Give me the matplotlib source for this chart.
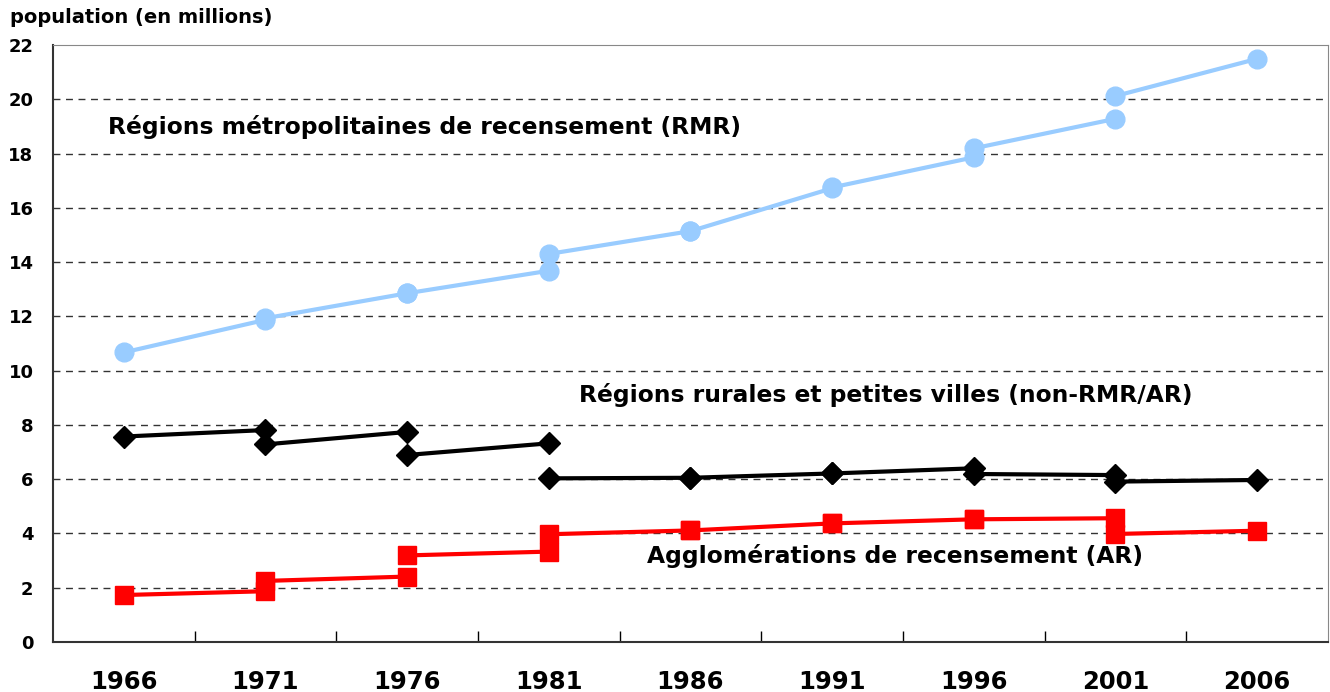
import numpy as np
import matplotlib.pyplot as plt

plt.rcParams['font.family'] = ['DejaVu Sans']

# census years; each segment joins year i to year i+1 (boundaries change between censuses)
years = ['1966', '1971', '1976', '1981', '1986', '1991', '1996', '2001', '2006']

rmr_start = [10.67, 11.93, 12.85, 14.30, 15.14, 16.75, 18.19, 20.12]
rmr_end   = [11.87, 12.85, 13.68, 15.14, 16.72, 17.86, 19.28, 21.49]

rural_start = [7.57, 7.28, 6.89, 6.03, 6.05, 6.21, 6.19, 5.91]
rural_end   = [7.81, 7.74, 7.32, 6.05, 6.21, 6.40, 6.15, 5.97]

ar_start = [1.73, 2.25, 3.19, 3.97, 4.11, 4.37, 4.52, 3.98]
ar_end   = [1.87, 2.41, 3.33, 4.11, 4.37, 4.52, 4.56, 4.10]

y_ticks = list(range(0, 23, 2))

fig = plt.figure(figsize=(13.3, 6.92), dpi=100)
ax = fig.add_axes([0.0398, 0.0723, 0.9587, 0.8627])

x = np.arange(len(years))


def draw_segments(start, end, color, marker, ms):
    for i in range(len(start)):
        ax.plot([x[i], x[i + 1]], [start[i], end[i]], color=color, lw=3,
                marker=marker, ms=ms, mec=color, mfc=color, zorder=3)


draw_segments(rmr_start, rmr_end, '#99ccff', 'o', 13.5)
draw_segments(rural_start, rural_end, 'black', 'D', 11)
draw_segments(ar_start, ar_end, '#ff0000', 's', 13)

ax.set_xlim(-0.5, len(years) - 0.5)
ax.set_ylim(0, 22)

ax.set_xticks(x)
ax.set_xticklabels(years, fontsize=17.5, fontweight='bold')
ax.set_xticks(np.arange(0.5, len(years) - 1, 1), minor=True)
ax.tick_params(axis='x', which='major', length=0, pad=20)
ax.tick_params(axis='x', which='minor', direction='in', length=8, width=1, color='black')

ax.set_yticks(y_ticks)
ax.set_yticklabels([str(v) for v in y_ticks], fontsize=13, fontweight='bold')
ax.tick_params(axis='y', length=0, pad=14)

for v in y_ticks[1:-1]:
    ax.axhline(v, color='#333333', lw=1, ls=(0, (5, 4)), zorder=1)

ax.spines['left'].set_color('#333333')
ax.spines['bottom'].set_color('#333333')
ax.spines['left'].set_linewidth(1.5)
ax.spines['bottom'].set_linewidth(1.5)
ax.spines['top'].set_color('#888888')
ax.spines['right'].set_color('#888888')

ax.text(-0.113, 18.71, 'Régions métropolitaines de recensement (RMR)',
        fontsize=16.8, fontweight='bold', va='baseline', ha='left')
ax.text(3.21, 8.85, 'Régions rurales et petites villes (non-RMR/AR)',
        fontsize=16.8, fontweight='bold', va='baseline', ha='left')
ax.text(3.69, 2.91, 'Agglomérations de recensement (AR)',
        fontsize=16.8, fontweight='bold', va='baseline', ha='left')

fig.text(0.0075, 0.975, 'population (en millions)', fontsize=14,
         fontweight='bold', va='center', ha='left')

fig.savefig('out.png', dpi=100)
